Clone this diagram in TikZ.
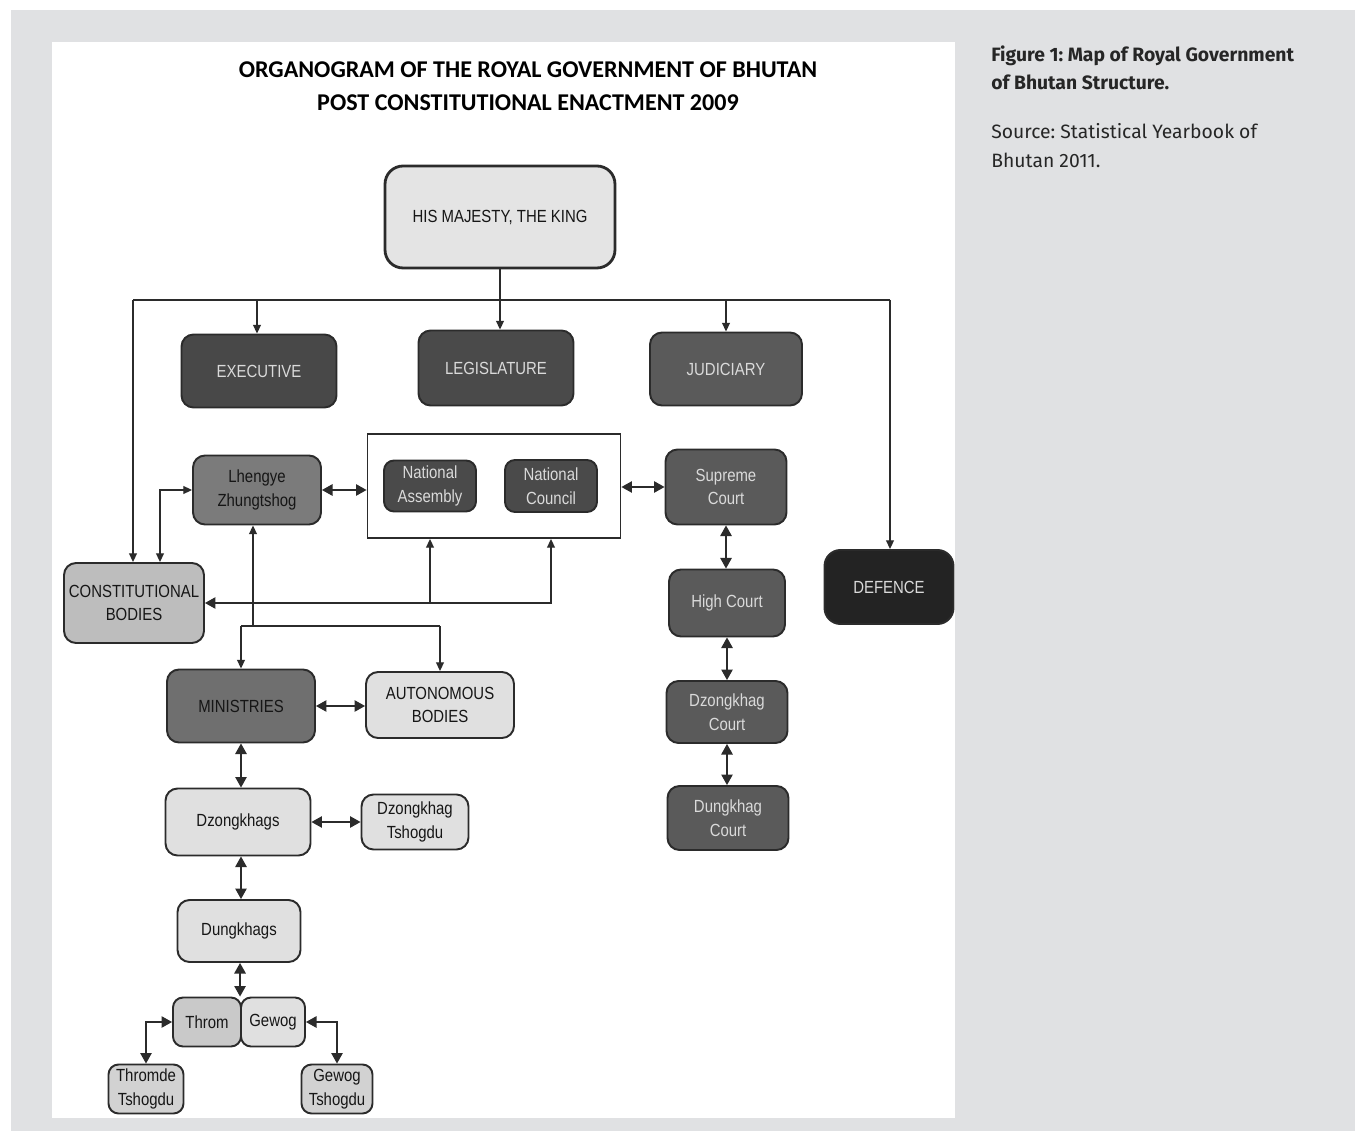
\documentclass[tikz,border=0pt]{standalone}
\usepackage{fontspec}
\setmainfont{Liberation Sans}
\newfontfamily\boxfont[FakeStretch=0.85]{Liberation Sans}
\newfontfamily\titlefont{Carlito}
\newfontfamily\capfont{Fira Sans}
\usetikzlibrary{arrows.meta}
\frenchspacing
\definecolor{pagegray}{HTML}{E0E1E3}
\definecolor{boxline}{HTML}{2B2B2B}
\definecolor{lighttext}{HTML}{DADADA}
\definecolor{darktext}{HTML}{161616}
\definecolor{kingfill}{HTML}{E4E4E4}
\definecolor{execfill}{HTML}{484848}
\definecolor{legisfill}{HTML}{4A4A4A}
\definecolor{courtfill}{HTML}{5A5A5A}
\definecolor{defencefill}{HTML}{232323}
\definecolor{lhengyefill}{HTML}{7B7B7B}
\definecolor{ministryfill}{HTML}{6F6F6F}
\definecolor{constfill}{HTML}{BDBDBD}
\definecolor{palefill}{HTML}{E0E0E0}
\definecolor{thromfill}{HTML}{C9C9C9}
\definecolor{tshogdufill}{HTML}{D2D2D2}
\tikzset{
box/.style={draw=boxline, line width=1.1pt, rounded corners=0.24cm, align=center, inner sep=2pt, font=\boxfont\fontsize{10}{13.5}\selectfont},
dark/.style={box, fill=#1, text=lighttext},
light/.style={box, fill=#1, text=darktext},
wh/.style n args={2}{minimum width=#1, minimum height=#2},
link/.style={draw=boxline, line width=0.8pt},
twoway/.style={link, {Triangle[length=6pt,width=6.5pt]}-{Triangle[length=6pt,width=6.5pt]}},
caption/.style={anchor=base west, inner sep=0pt, text=black!85},
}

\begin{document}
\begin{tikzpicture}[x=0.02cm, y=-0.02cm, >={Triangle[length=5pt,width=4.5pt]}]
\useasboundingbox (0,0) rectangle (1355,1131);
\fill[white] (0,0) rectangle (1355,1131);
\fill[pagegray] (11,10) rectangle (1355,1131);
\fill[white] (52,42) rectangle (955,1118);

\node (title) [font=\titlefont\bfseries\fontsize{13.7}{18.7}\selectfont, align=center, text=black] at (528,86)
  {ORGANOGRAM OF THE ROYAL GOVERNMENT OF BHUTAN\\POST CONSTITUTIONAL ENACTMENT 2009};

\node (king) [light=kingfill, wh={4.6cm}{2.04cm}, line width=1.6pt, rounded corners=0.36cm] at (500,217) {HIS MAJESTY, THE KING};
\node (exec) [dark=execfill, wh={3.1cm}{1.46cm}] at (259,371) {EXECUTIVE};
\node (legis) [dark=legisfill, wh={3.1cm}{1.5cm}] at (496,368) {LEGISLATURE};
\node (judic) [dark=courtfill, wh={3.04cm}{1.46cm}] at (726,369) {JUDICIARY};
\node (defence) [dark=defencefill, wh={2.58cm}{1.48cm}, rounded corners=0.32cm] at (889,587) {DEFENCE};

\node (lhengye) [light=lhengyefill, wh={2.56cm}{1.38cm}] at (257,490) {Lhengye\\Zhungtshog};
\node (parl) [draw=boxline, fill=white, line width=1.1pt, wh={5.06cm}{2.08cm}] at (494,486) {};
\node (nassembly) [dark=legisfill, wh={1.84cm}{1.02cm}, rounded corners=0.2cm] at (430,486) {National\\Assembly};
\node (ncouncil) [dark=legisfill, wh={1.84cm}{1.04cm}, rounded corners=0.2cm] at (551,486) {National\\Council};

\node (supreme) [dark=courtfill, wh={2.42cm}{1.5cm}] at (726,487) {Supreme\\Court};
\node (highcourt) [dark=courtfill, wh={2.32cm}{1.34cm}] at (727,603) {High Court};
\node (dzcourt) [dark=courtfill, wh={2.42cm}{1.24cm}] at (727,712) {Dzongkhag\\Court};
\node (dgcourt) [dark=courtfill, wh={2.42cm}{1.28cm}] at (728,818) {Dungkhag\\Court};

\node (constbodies) [light=constfill, wh={2.8cm}{1.6cm}] at (134,603) {CONSTITUTIONAL\\BODIES};
\node (ministries) [light=ministryfill, wh={2.96cm}{1.46cm}] at (241,706) {MINISTRIES};
\node (autonomous) [light=palefill, wh={2.96cm}{1.32cm}] at (440,705) {AUTONOMOUS\\BODIES};
\node (dzongkhags) [light=palefill, wh={2.9cm}{1.34cm}] at (238,822) {Dzongkhags};
\node (dztshogdu) [light=palefill, wh={2.14cm}{1.1cm}] at (415,822) {Dzongkhag\\Tshogdu};
\node (dungkhags) [light=palefill, wh={2.46cm}{1.24cm}] at (239,931) {Dungkhags};
\node (throm) [light=thromfill, wh={1.36cm}{0.98cm}, rounded corners=0.2cm] at (207,1022) {Throm};
\node (gewog) [light=palefill, wh={1.28cm}{0.98cm}, rounded corners=0.2cm] at (273,1022) {Gewog};
\node (thromde) [light=tshogdufill, wh={1.5cm}{0.98cm}, rounded corners=0.2cm] at (146,1089) {Thromde\\Tshogdu};
\node (gtshogdu) [light=tshogdufill, wh={1.42cm}{0.98cm}, rounded corners=0.2cm] at (337,1089) {Gewog\\Tshogdu};

\coordinate (busL) at (133,300);
\coordinate (busR) at (890,300);
\coordinate (split) at (253,626);

\draw[link, line width=0.7pt] (busL) -- (busR);
\draw[link, ->] (king.south) -- (king.south |- legis.north);
\draw[link, ->] (busL) -- (busL |- constbodies.north);
\draw[link, ->] (busR) -- (busR |- defence.north);
\draw[link, ->] ([xshift=-0.04cm]exec.north |- busL) -- ([xshift=-0.04cm]exec.north);
\draw[link, ->] (judic.north |- busL) -- (judic.north);

\draw[twoway] (lhengye.east) -- (lhengye.east -| parl.west);
\draw[twoway] (parl.east |- supreme.west) -- (supreme.west);
\draw[link, <->] (lhengye.west) -| ([xshift=0.52cm]constbodies.north);
\draw[link, {Triangle[length=6pt,width=6.5pt]}->] (constbodies.east) -| (parl.south -| ncouncil);
\draw[link, ->] (constbodies.east -| nassembly) -- (parl.south -| nassembly);

\draw[link, ->] (split) -- (split |- lhengye.south);
\draw[link] (split -| ministries) -- (split -| autonomous);
\draw[link, ->] (split -| ministries) -- (ministries.north);
\draw[link, ->] (split -| autonomous) -- (autonomous.north);

\draw[twoway] (ministries.east) -- (ministries.east -| autonomous.west);
\draw[twoway] (ministries.south) -- (ministries.south |- dzongkhags.north);
\draw[twoway] (dzongkhags.east) -- (dzongkhags.east -| dztshogdu.west);
\draw[twoway] (dzongkhags.south -| ministries) -- (dungkhags.north -| ministries);
\draw[twoway] (dungkhags.south -| gewog.north west) -- (gewog.north west);
\draw[twoway] (throm.west) -| (thromde.north);
\draw[twoway] (gewog.east) -| (gtshogdu.north);

\draw[twoway] (supreme.south) -- (supreme.south |- highcourt.north);
\draw[twoway] (highcourt.south) -- (highcourt.south |- dzcourt.north);
\draw[twoway] (dzcourt.south) -- (dzcourt.south |- dgcourt.north);

\node (cap1) [caption, font=\capfont\bfseries\fontsize{11}{14}\selectfont] at (991,62) {Figure 1: Map of Royal Government};
\node (cap2) [caption, font=\capfont\bfseries\fontsize{11}{14}\selectfont] at (991,90) {of Bhutan Structure.};
\node (src1) [caption, font=\capfont\fontsize{11}{14}\selectfont] at (991,139) {Source: Statistical Yearbook of};
\node (src2) [caption, font=\capfont\fontsize{11}{14}\selectfont] at (991,168) {Bhutan 2011.};
\end{tikzpicture}
\end{document}
